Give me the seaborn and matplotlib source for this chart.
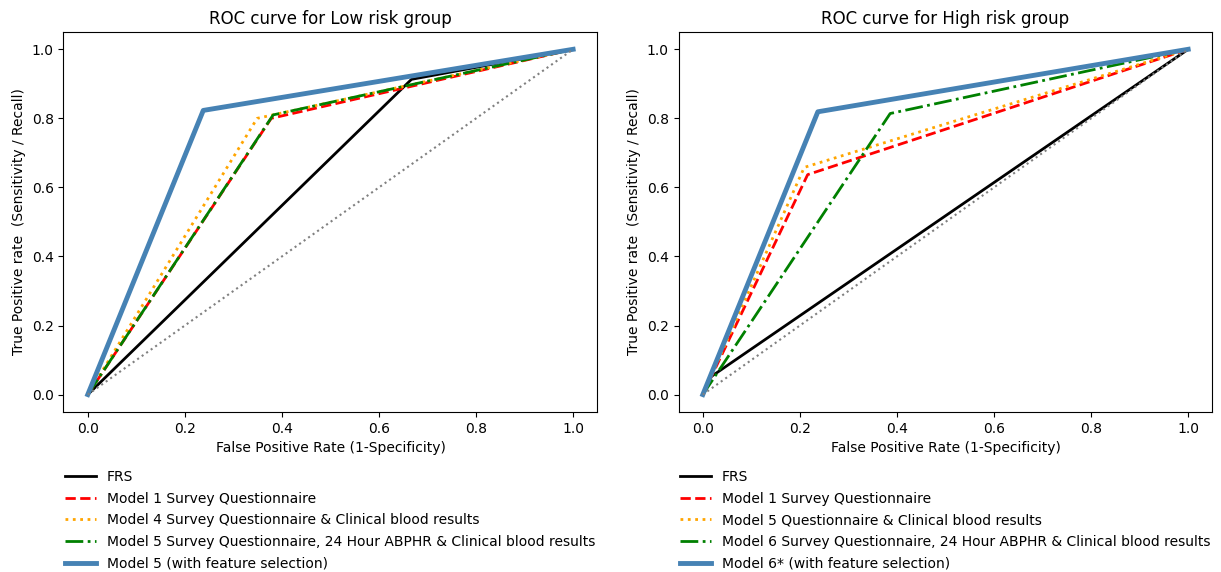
import numpy as np
import pandas as pd
import matplotlib
matplotlib.use("Agg")
import matplotlib.pyplot as plt
import seaborn as sns

# ROC points (false positive rate, true positive rate)
low_labels = [
    "FRS",
    "Model 1 Survey Questionnaire",
    "Model 4 Survey Questionnaire & Clinical blood results",
    "Model 5 Survey Questionnaire, 24 Hour ABPHR & Clinical blood results",
    "Model 5 (with feature selection)",
]
low_fpr = [
    [0.0, 0.667, 1.0],
    [0.0, 0.378, 1.0],
    [0.0, 0.349, 1.0],
    [0.0, 0.382, 1.0],
    [0.0, 0.238, 1.0],
]
low_tpr = [
    [0.0, 0.913, 1.0],
    [0.0, 0.800, 1.0],
    [0.0, 0.800, 1.0],
    [0.0, 0.810, 1.0],
    [0.0, 0.823, 1.0],
]

high_labels = [
    "FRS",
    "Model 1 Survey Questionnaire",
    "Model 5 Questionnaire & Clinical blood results",
    "Model 6 Survey Questionnaire, 24 Hour ABPHR & Clinical blood results",
    "Model 6* (with feature selection)",
]
high_fpr = [
    [0.0, 0.015, 1.0],
    [0.0, 0.216, 1.0],
    [0.0, 0.209, 1.0],
    [0.0, 0.386, 1.0],
    [0.0, 0.237, 1.0],
]
high_tpr = [
    [0.0, 0.050, 1.0],
    [0.0, 0.637, 1.0],
    [0.0, 0.658, 1.0],
    [0.0, 0.814, 1.0],
    [0.0, 0.819, 1.0],
]

chance = [0.0, 1.0]

styles = [
    dict(color="black", linestyle="-", linewidth=2),
    dict(color="red", linestyle="--", linewidth=2),
    dict(color="orange", linestyle=":", linewidth=2),
    dict(color="green", linestyle="-.", linewidth=2),
    dict(color="steelblue", linestyle="-", linewidth=3.5),
]


def draw_roc(ax, title, labels, fpr, tpr):
    for lab, xs, ys, st in zip(labels, fpr, tpr, styles):
        df = pd.DataFrame({"fpr": xs, "tpr": ys})
        sns.lineplot(data=df, x="fpr", y="tpr", ax=ax, sort=False,
                     estimator=None, label=lab, **st)
    sns.lineplot(x=chance, y=chance, ax=ax, color="grey", linestyle=":",
                 linewidth=1.5, sort=False, estimator=None)
    ax.set_title(title)
    ax.set_xlabel("False Positive Rate (1-Specificity)")
    ax.set_ylabel("True Positive rate  (Sensitivity / Recall)")
    ax.set_xticks(np.arange(0, 1.01, 0.2))
    ax.set_yticks(np.arange(0, 1.01, 0.2))
    ax.legend(loc="upper left", bbox_to_anchor=(-0.02, -0.12), frameon=False,
              handlelength=2.2, labelspacing=0.55)


fig, axes = plt.subplots(1, 2, figsize=(12.21, 5.72), dpi=100)
fig.subplots_adjust(left=0.052, right=0.993, top=0.944, bottom=0.28, wspace=0.152)

draw_roc(axes[0], "ROC curve for Low risk group", low_labels, low_fpr, low_tpr)
draw_roc(axes[1], "ROC curve for High risk group", high_labels, high_fpr, high_tpr)

fig.savefig("out.png", dpi=100)
